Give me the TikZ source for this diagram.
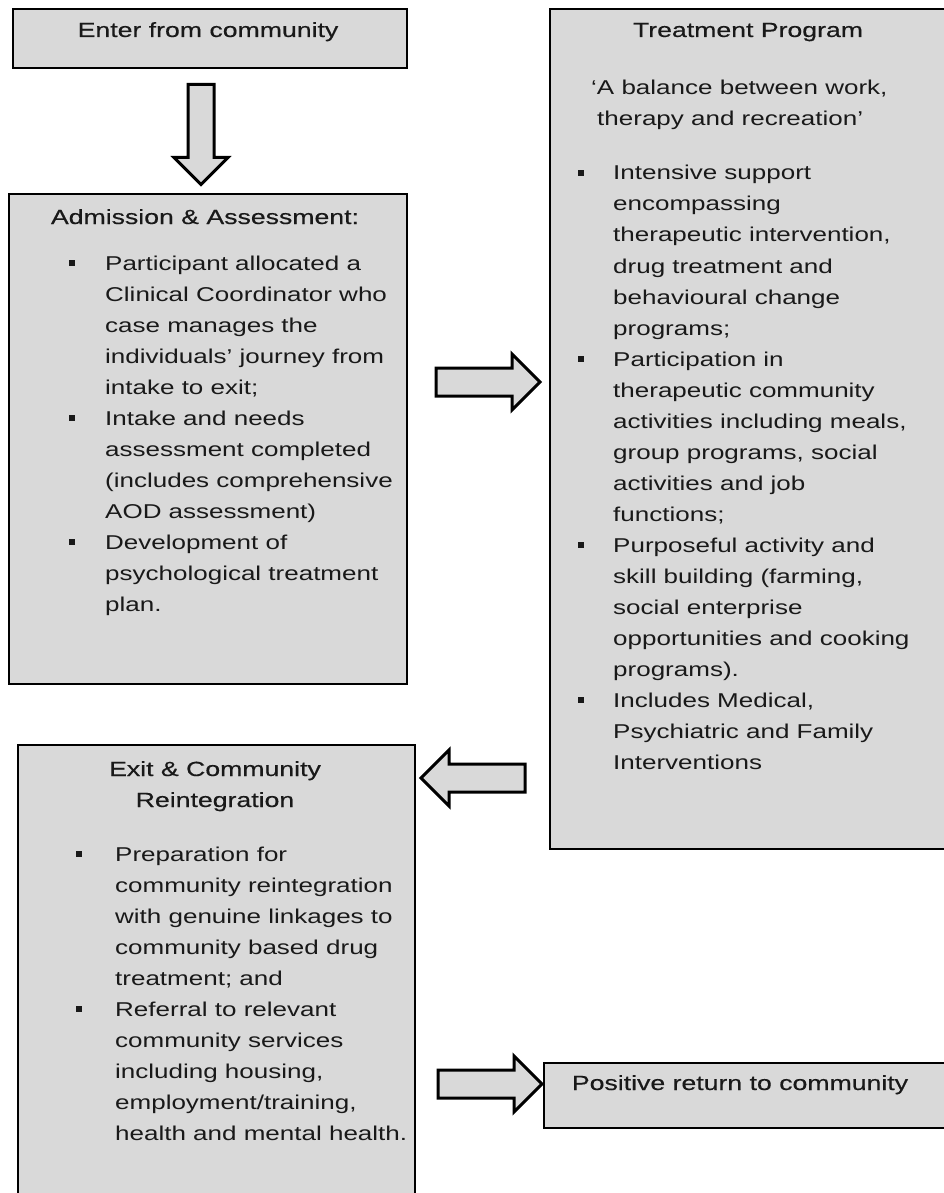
\documentclass[tikz,border=0pt]{standalone}
\usepackage{fontspec}
\setmainfont{Liberation Sans}[FakeStretch=1.3]
\newfontfamily\headfamily{Liberation Sans}[FakeStretch=1.3, FakeBold=0.4]
\usetikzlibrary{shapes.arrows}
\definecolor{boxgray}{RGB}{217,217,217}
\definecolor{inkgray}{RGB}{25,25,25}
\newcommand{\sq}{\rule[4pt]{6pt}{6pt}}
\newcommand{\headfont}{\headfamily\fontsize{20.5}{31}\selectfont}
\newcommand{\bodyfont}{\fontsize{20}{31}\selectfont}

\begin{document}
\begin{tikzpicture}[x=1pt,y=-1pt]
\tikzstyle{stage} = [rectangle, draw=black, line width=1.7pt, fill=boxgray, anchor=north west, inner sep=0pt]
\tikzstyle{title} = [font=\headfont, text=inkgray, anchor=base, inner sep=0pt, align=center]
\tikzstyle{items} = [font=\bodyfont, text=inkgray, anchor=base west, inner sep=0pt]
\tikzstyle{fat} = [single arrow, draw=black, line width=3pt, fill=boxgray, minimum height=104pt, single arrow head extend=14pt, inner xsep=0pt, inner ysep=12.5pt]

\useasboundingbox (0,0) rectangle (944,1193);
\clip (0,0) rectangle (944,1193);

%boxes
\node (enter) [stage, minimum width=394pt, minimum height=59pt] at (12,8) {};
\node (admit) [stage, minimum width=398pt, minimum height=490pt] at (8,193) {};
\node (treat) [stage, minimum width=410pt, minimum height=840pt] at (549,8) {};
\node (exit) [stage, minimum width=397pt, minimum height=480pt] at (17,744) {};
\node (return) [stage, minimum width=420pt, minimum height=65pt] at (543,1062) {};

%titles
\node (entert) [title] at (208,37) {Enter from community};
\node (admitt) [title] at (205,224) {Admission \& Assessment:};
\node (treatt) [title] at (748,37) {Treatment Program};
\node (exitt) [title] at (215,807) {Exit \& Community\\Reintegration};
\node (returnt) [title] at (740,1090) {Positive return to community};

%texts
\node (quote) [items] at (591,95) {\begin{tabular}[t]{@{}l@{}}
‘A balance between work,\\
\hspace{6pt}therapy and recreation’
\end{tabular}};

\node (admitl) [items] at (69,270) {\begin{tabular}[t]{@{}p{36pt}@{}l@{}}
\sq & Participant allocated a\\
    & Clinical Coordinator who\\
    & case manages the\\
    & individuals' journey from\\
    & intake to exit;\\
\sq & Intake and needs\\
    & assessment completed\\
    & (includes comprehensive\\
    & AOD assessment)\\
\sq & Development of\\
    & psychological treatment\\
    & plan.
\end{tabular}};

\node (treatl) [items] at (578,180) {\begin{tabular}[t]{@{}p{35pt}@{}l@{}}
\sq & Intensive support\\
    & encompassing\\
    & therapeutic intervention,\\
    & drug treatment and\\
    & behavioural change\\
    & programs;\\
\sq & Participation in\\
    & therapeutic community\\
    & activities including meals,\\
    & group programs, social\\
    & activities and job\\
    & functions;\\
\sq & Purposeful activity and\\
    & skill building (farming,\\
    & social enterprise\\
    & opportunities and cooking\\
    & programs).\\
\sq & Includes Medical,\\
    & Psychiatric and Family\\
    & Interventions
\end{tabular}};

\node (exitl) [items] at (76,861) {\begin{tabular}[t]{@{}p{39pt}@{}l@{}}
\sq & Preparation for\\
    & community reintegration\\
    & with genuine linkages to\\
    & community based drug\\
    & treatment; and\\
\sq & Referral to relevant\\
    & community services\\
    & including housing,\\
    & employment/training,\\
    & health and mental health.
\end{tabular}};

%arrows
\node (down) [fat, minimum height=100pt, inner xsep=11.5pt, inner ysep=0pt, shape border rotate=270] at (201,128) {};
\node (totreat) [fat] at (481,382) {};
\node (toexit) [fat, shape border rotate=180] at (480,778) {};
\node (toreturn) [fat] at (483,1084) {};

\end{tikzpicture}
\end{document}
